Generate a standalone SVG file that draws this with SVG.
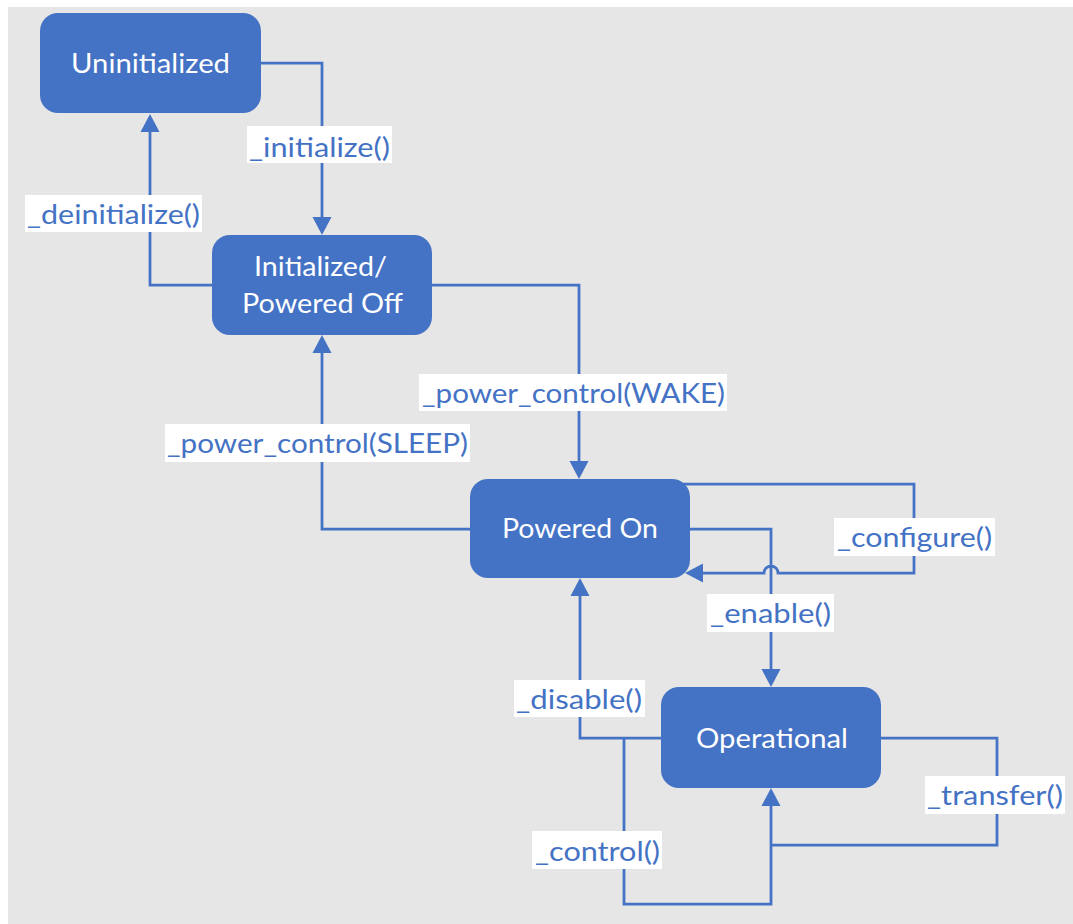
<svg xmlns="http://www.w3.org/2000/svg" width="1073" height="924" viewBox="0 0 1073 924">
<style>
.node{fill:#4472c4}
.nt{font-family:Lato,"Liberation Sans",sans-serif;font-size:27px;fill:#ffffff}
.ln{fill:none;stroke:#4472c4;stroke-width:2.75}
.lb{fill:#ffffff}
.lt{font-family:Lato,"Liberation Sans",sans-serif;font-size:27px;fill:#4472c4}
</style>
<defs>
<marker id="arr" markerUnits="userSpaceOnUse" markerWidth="20" markerHeight="20" refX="0" refY="9.5" orient="auto" viewBox="0 0 20 19">
<path d="M0,0 L18,9.5 L0,19 Z" fill="#4472c4"/>
</marker>
</defs>
<rect x="0" y="0" width="1073" height="924" fill="#ffffff"/>
<rect x="8" y="7" width="1065" height="917" fill="#e6e6e6"/>
<g id="connectors">
<path class="ln" d="M255,63 H322 V217" marker-end="url(#arr)"/>
<path class="ln" d="M215,285 H150 V132" marker-end="url(#arr)"/>
<path class="ln" d="M428,285 H579 V461" marker-end="url(#arr)"/>
<path class="ln" d="M474,529 H322 V353" marker-end="url(#arr)"/>
<path class="ln" d="M680,484 H914 V573 H778 A7,7 0 0 0 764,573 H703" marker-end="url(#arr)"/>
<path class="ln" d="M686,529 H771 V669" marker-end="url(#arr)"/>
<path class="ln" d="M665,738 H580 V596" marker-end="url(#arr)"/>
<path class="ln" d="M624,738 V904 H771 V806" marker-end="url(#arr)"/>
<path class="ln" d="M877,738 H997 V845 H771"/>
<g id="labels">
<rect class="lb" x="247" y="126" width="145" height="37"/>
<text class="lt" x="249" y="157" textLength="141" lengthAdjust="spacingAndGlyphs">_initialize()</text>
<rect class="lb" x="25" y="195" width="177" height="37"/>
<text class="lt" x="27" y="224" textLength="173" lengthAdjust="spacingAndGlyphs">_deinitialize()</text>
<rect class="lb" x="419" y="374" width="308" height="37"/>
<text class="lt" x="422" y="403" textLength="303" lengthAdjust="spacingAndGlyphs">_power_control(WAKE)</text>
<rect class="lb" x="165" y="424" width="305" height="38"/>
<text class="lt" x="167" y="453" textLength="301" lengthAdjust="spacingAndGlyphs">_power_control(SLEEP)</text>
<rect class="lb" x="834" y="518" width="161" height="38"/>
<text class="lt" x="837" y="547" textLength="155" lengthAdjust="spacingAndGlyphs">_configure()</text>
<rect class="lb" x="707" y="594" width="127" height="38"/>
<text class="lt" x="710" y="623" textLength="121" lengthAdjust="spacingAndGlyphs">_enable()</text>
<rect class="lb" x="514" y="680" width="131" height="37"/>
<text class="lt" x="516" y="709" textLength="126" lengthAdjust="spacingAndGlyphs">_disable()</text>
<rect class="lb" x="925" y="776" width="140" height="38"/>
<text class="lt" x="927" y="805" textLength="136" lengthAdjust="spacingAndGlyphs">_transfer()</text>
<rect class="lb" x="532" y="831" width="130" height="38"/>
<text class="lt" x="535" y="861" textLength="125" lengthAdjust="spacingAndGlyphs">_control()</text>
</g>
</g>
<g id="uninitialized">
<rect class="node" x="40" y="13" width="221" height="100" rx="18"/>
<text class="nt" x="71" y="73" textLength="159" lengthAdjust="spacingAndGlyphs">Uninitialized</text>
</g>
<g id="initialized">
<rect class="node" x="212" y="235" width="220" height="100" rx="18"/>
<text class="nt" x="254" y="276" textLength="133" lengthAdjust="spacingAndGlyphs">Initialized/</text>
<text class="nt" x="242" y="313" textLength="161" lengthAdjust="spacingAndGlyphs">Powered Off</text>
</g>
<g id="powered-on">
<rect class="node" x="470" y="479" width="220" height="99" rx="18"/>
<text class="nt" x="502" y="538" textLength="156" lengthAdjust="spacingAndGlyphs">Powered On</text>
</g>
<g id="operational">
<rect class="node" x="661" y="687" width="220" height="101" rx="18"/>
<text class="nt" x="696" y="748" textLength="152" lengthAdjust="spacingAndGlyphs">Operational</text>
</g>
</svg>
